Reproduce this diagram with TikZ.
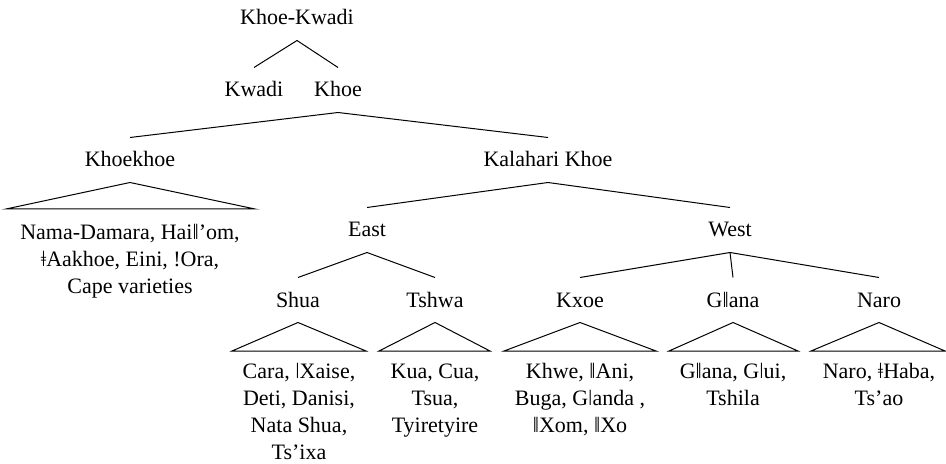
\documentclass[tikz,border=0pt]{standalone}
\usepackage{fontspec}
\setmainfont{Liberation Serif}
\usepackage{tikz}
\usetikzlibrary{positioning}

\begin{document}
\begin{tikzpicture}[x=0.5pt, y=-0.5pt, line width=.5pt]
\useasboundingbox (0,0) rectangle (946,464);
\fontsize{11}{13.5}\selectfont
\begin{scope}
\tikzstyle{every node}=[text height=9pt, text depth=2pt, inner xsep=0pt, inner ysep=5.5pt] %%
\node (kk) at (297,18) {Khoe-Kwadi}; %%
\node (kwadi) at (254,90) {Kwadi}; %%
\node (khoe) at (338,90) {Khoe}; %%
\node (khoekhoe) at (130,160) {Khoekhoe}; %%
\node (kalahari) at (548,160) {Kalahari Khoe}; %%
\node (east) at (367,230) {East}; %%
\node (west) at (730,230) {West}; %%
\node (shua) at (298,300) {Shua}; %%
\node (tshwa) at (435,300) {Tshwa}; %%
\node (kxoe) at (580,300) {Kxoe}; %%
\node (gllana) at (733,300) {Gǁana}; %%
\node (naro) at (879,300) {Naro}; %%
\end{scope}
\begin{scope}
\tikzstyle{every node}=[anchor=north, align=center, inner sep=0pt] %%
\node (khoekhoeL) at (130,224) {Nama-Damara, Haiǁ’om,\\ǂAakhoe, Eini, !Ora,\\Cape varieties}; %%
\node (shuaL) at (299,363) {Cara, ǀXaise,\\Deti, Danisi,\\Nata Shua,\\Ts’ixa}; %%
\node (tshwaL) at (435,363) {Kua, Cua,\\Tsua,\\Tyiretyire}; %%
\node (kxoeL) at (580,363) {Khwe, ǁAni,\\Buga, Gǀanda ,\\ǁXom, ǁXo}; %%
\node (gllanaL) at (733,363) {Gǁana, Gǀui,\\Tshila}; %%
\node (naroL) at (879,363) {Naro, ǂHaba,\\Ts’ao}; %%
\end{scope}
% branches
\draw (kk.south) -- (kwadi.north); %%
\draw (kk.south) -- (khoe.north); %%
\draw (khoe.south) -- (khoekhoe.north); %%
\draw (khoe.south) -- (kalahari.north); %%
\draw (kalahari.south) -- (east.north); %%
\draw (kalahari.south) -- (west.north); %%
\draw (east.south) -- (shua.north); %%
\draw (east.south) -- (tshwa.north); %%
\draw (west.south) -- (kxoe.north); %%
\draw (west.south) -- (gllana.north); %%
\draw (west.south) -- (naro.north); %%
% roofs
\coordinate (khoekhoeA) at (6,209); \coordinate (khoekhoeB) at (255,209);
\coordinate (shuaA) at (232,351); \coordinate (shuaB) at (366,351);
\coordinate (tshwaA) at (379,351); \coordinate (tshwaB) at (490,351);
\coordinate (kxoeA) at (504,351); \coordinate (kxoeB) at (656,351);
\coordinate (gllanaA) at (669,351); \coordinate (gllanaB) at (798,351);
\coordinate (naroA) at (811,351); \coordinate (naroB) at (945,351);
\foreach \n in {khoekhoe,shua,tshwa,kxoe,gllana,naro}
  \draw (\n.south) -- (\n A) -- (\n B) -- cycle; %%
\end{tikzpicture}
\end{document}
